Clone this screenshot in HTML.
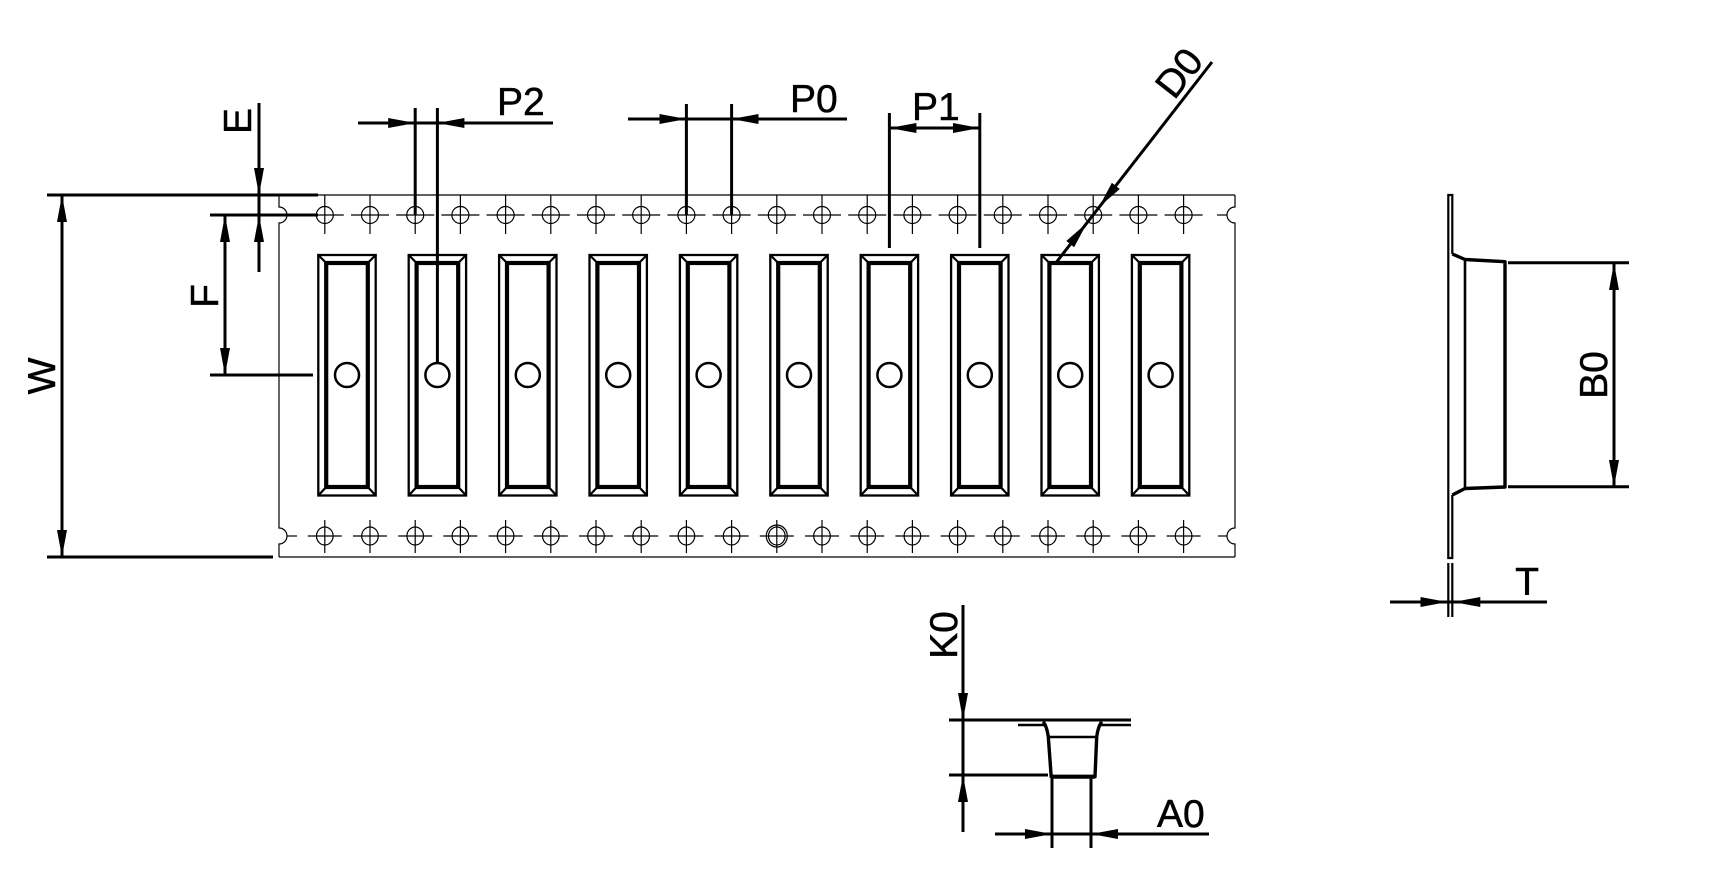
<!DOCTYPE html>
<html>
<head>
<meta charset="utf-8">
<style>
html,body{margin:0;padding:0;background:#fff;}
svg{display:block;}
text{font-family:"Liberation Sans",Arial,sans-serif;font-size:39px;fill:#000;stroke:#000;stroke-width:0.5px;}
</style>
</head>
<body>
<svg width="1710" height="873" viewBox="0 0 1710 873" xmlns="http://www.w3.org/2000/svg">
<defs>
  <marker id="ah" markerUnits="userSpaceOnUse" markerWidth="30" markerHeight="12" refX="27" refY="5" orient="auto">
    <path d="M0,0 L27,5 L0,10 Z" fill="#000"/>
  </marker>
  <g id="th" fill="none" stroke="#000" stroke-width="1.2">
    <circle cx="0" cy="0" r="8.5"/>
    <line x1="-19" y1="0" x2="19" y2="0"/>
    <line x1="0" y1="-20" x2="0" y2="19"/>
  </g>
  <g id="bh" fill="none" stroke="#000" stroke-width="1.2">
    <ellipse cx="0" cy="0" rx="8.3" ry="9"/>
    <line x1="-17" y1="0" x2="17" y2="0"/>
    <line x1="0" y1="-16" x2="0" y2="17"/>
  </g>
  <g id="pk" fill="none" stroke="#000">
    <rect x="-28.7" y="255" width="57.4" height="240.5" stroke-width="2.3"/>
    <rect x="-20.8" y="263" width="41.6" height="224" stroke-width="4.2"/>
    <line x1="-28.7" y1="255" x2="-20.8" y2="263" stroke-width="2.2"/>
    <line x1="28.7" y1="255" x2="20.8" y2="263" stroke-width="2.2"/>
    <line x1="-28.7" y1="495.5" x2="-20.8" y2="487" stroke-width="2.2"/>
    <line x1="28.7" y1="495.5" x2="20.8" y2="487" stroke-width="2.2"/>
    <circle cx="0" cy="375" r="12" stroke-width="2.5"/>
  </g>
</defs>

<!-- Tape outline -->
<g fill="none" stroke="#000" stroke-width="1.2">
  <line x1="279" y1="195" x2="1235" y2="195"/>
  <line x1="279" y1="557" x2="1235" y2="557"/>
  <path d="M279,195 V207 A8,8 0 0 1 279,223 V528 A8,8 0 0 1 279,544 V557"/>
  <path d="M1235,195 V207 A8,8 0 0 0 1235,223 V528 A8,8 0 0 0 1235,544 V557"/>
  <line x1="287" y1="536" x2="297" y2="536"/>
  <line x1="1217" y1="215" x2="1227" y2="215"/>
  <line x1="1218" y1="536" x2="1227" y2="536"/>
</g>

<!-- Top sprocket holes -->
<use href="#th" x="324.8" y="215"/>
<use href="#th" x="370" y="215"/>
<use href="#th" x="415.2" y="215"/>
<use href="#th" x="460.4" y="215"/>
<use href="#th" x="505.6" y="215"/>
<use href="#th" x="550.8" y="215"/>
<use href="#th" x="596" y="215"/>
<use href="#th" x="641.2" y="215"/>
<use href="#th" x="686.4" y="215"/>
<use href="#th" x="731.6" y="215"/>
<use href="#th" x="776.8" y="215"/>
<use href="#th" x="822" y="215"/>
<use href="#th" x="867.2" y="215"/>
<use href="#th" x="912.4" y="215"/>
<use href="#th" x="957.6" y="215"/>
<use href="#th" x="1002.8" y="215"/>
<use href="#th" x="1048" y="215"/>
<use href="#th" x="1093.2" y="215"/>
<use href="#th" x="1138.4" y="215"/>
<use href="#th" x="1183.6" y="215"/>

<!-- Bottom sprocket holes -->
<use href="#bh" x="324.8" y="536"/>
<use href="#bh" x="370" y="536"/>
<use href="#bh" x="415.2" y="536"/>
<use href="#bh" x="460.4" y="536"/>
<use href="#bh" x="505.6" y="536"/>
<use href="#bh" x="550.8" y="536"/>
<use href="#bh" x="596" y="536"/>
<use href="#bh" x="641.2" y="536"/>
<use href="#bh" x="686.4" y="536"/>
<use href="#bh" x="731.6" y="536"/>
<use href="#bh" x="776.8" y="536"/>
<use href="#bh" x="822" y="536"/>
<use href="#bh" x="867.2" y="536"/>
<use href="#bh" x="912.4" y="536"/>
<use href="#bh" x="957.6" y="536"/>
<use href="#bh" x="1002.8" y="536"/>
<use href="#bh" x="1048" y="536"/>
<use href="#bh" x="1093.2" y="536"/>
<use href="#bh" x="1138.4" y="536"/>
<use href="#bh" x="1183.6" y="536"/>
<ellipse cx="776.8" cy="536" rx="10.5" ry="11" fill="none" stroke="#000" stroke-width="1.2"/>

<!-- Pockets -->
<use href="#pk" x="347" y="0"/>
<use href="#pk" x="437.4" y="0"/>
<use href="#pk" x="527.8" y="0"/>
<use href="#pk" x="618.2" y="0"/>
<use href="#pk" x="708.6" y="0"/>
<use href="#pk" x="799" y="0"/>
<use href="#pk" x="889.4" y="0"/>
<use href="#pk" x="979.8" y="0"/>
<use href="#pk" x="1070.2" y="0"/>
<use href="#pk" x="1160.6" y="0"/>

<!-- Dimension lines -->
<g stroke="#000" stroke-width="3" fill="none">
  <!-- W -->
  <line x1="47" y1="195" x2="318" y2="195"/>
  <line x1="47" y1="557" x2="273" y2="557"/>
  <line x1="62" y1="195" x2="62" y2="557"/>
  <!-- E -->
  <line x1="259" y1="103" x2="259" y2="272"/>
  <line x1="210" y1="215" x2="318" y2="215"/>
  <!-- F -->
  <line x1="225" y1="215" x2="225" y2="375"/>
  <line x1="210" y1="375" x2="313" y2="375"/>
  <!-- P2 -->
  <line x1="415.2" y1="108" x2="415.2" y2="215"/>
  <line x1="437.4" y1="108" x2="437.4" y2="363"/>
  <line x1="358" y1="123" x2="553" y2="123"/>
  <!-- P0 -->
  <line x1="686.4" y1="104" x2="686.4" y2="215"/>
  <line x1="731.6" y1="104" x2="731.6" y2="215"/>
  <line x1="628" y1="119" x2="847" y2="119"/>
  <!-- P1 -->
  <line x1="889.4" y1="113" x2="889.4" y2="248"/>
  <line x1="979.8" y1="113" x2="979.8" y2="248"/>
  <line x1="889.4" y1="128" x2="979.8" y2="128"/>
  <!-- D0 -->
  <line x1="1212" y1="62" x2="1055" y2="264"/>
  <!-- B0 -->
  <line x1="1508" y1="262.7" x2="1629" y2="262.7"/>
  <line x1="1508" y1="486.7" x2="1629" y2="486.7"/>
  <line x1="1614" y1="263" x2="1614" y2="487"/>
  <!-- T -->
  <line x1="1390" y1="602" x2="1547" y2="602"/>
  <!-- K0 -->
  <line x1="963" y1="605" x2="963" y2="832"/>
  <line x1="949" y1="720" x2="1131" y2="720"/>
  <line x1="949" y1="775" x2="1048" y2="775"/>
  <!-- A0 -->
  <line x1="1052" y1="778" x2="1052" y2="848"/>
  <line x1="1091" y1="778" x2="1091" y2="848"/>
  <line x1="995" y1="834" x2="1209" y2="834"/>
</g>

<!-- Arrows -->
<g stroke="#000" stroke-width="1">
  <line x1="62" y1="222" x2="62" y2="195" marker-end="url(#ah)"/>
  <line x1="62" y1="530" x2="62" y2="557" marker-end="url(#ah)"/>
  <line x1="259" y1="168" x2="259" y2="195" marker-end="url(#ah)"/>
  <line x1="259" y1="242" x2="259" y2="215" marker-end="url(#ah)"/>
  <line x1="225" y1="242" x2="225" y2="215" marker-end="url(#ah)"/>
  <line x1="225" y1="348" x2="225" y2="375" marker-end="url(#ah)"/>
  <line x1="388" y1="123" x2="415.2" y2="123" marker-end="url(#ah)"/>
  <line x1="464" y1="123" x2="437.4" y2="123" marker-end="url(#ah)"/>
  <line x1="659" y1="119" x2="686.4" y2="119" marker-end="url(#ah)"/>
  <line x1="759" y1="119" x2="731.6" y2="119" marker-end="url(#ah)"/>
  <line x1="917" y1="128" x2="889.4" y2="128" marker-end="url(#ah)"/>
  <line x1="952" y1="128" x2="979.8" y2="128" marker-end="url(#ah)"/>
  <line x1="1115.8" y1="185.9" x2="1099" y2="207" marker-end="url(#ah)"/>
  <line x1="1070.2" y1="244.1" x2="1087" y2="223" marker-end="url(#ah)"/>
  <line x1="1614" y1="290" x2="1614" y2="263" marker-end="url(#ah)"/>
  <line x1="1614" y1="460" x2="1614" y2="487" marker-end="url(#ah)"/>
  <line x1="1420" y1="602" x2="1447.3" y2="602" marker-end="url(#ah)"/>
  <line x1="1480" y1="602" x2="1453.3" y2="602" marker-end="url(#ah)"/>
  <line x1="963" y1="693" x2="963" y2="720" marker-end="url(#ah)"/>
  <line x1="963" y1="802" x2="963" y2="775" marker-end="url(#ah)"/>
  <line x1="1025" y1="834" x2="1052" y2="834" marker-end="url(#ah)"/>
  <line x1="1118" y1="834" x2="1091" y2="834" marker-end="url(#ah)"/>
</g>

<!-- Side view (right) -->
<g fill="none" stroke="#000">
  <path d="M1452.3,254 V195 H1448.3 V558 H1452.3 V495" stroke-width="2.2"/>
  <line x1="1448.3" y1="563" x2="1448.3" y2="617" stroke-width="2.2"/>
  <line x1="1452.3" y1="563" x2="1452.3" y2="617" stroke-width="2.2"/>
  <path d="M1452.3,254 L1465,259.5 L1505,261.7 L1505,487 L1465,488.5 L1452.3,495" stroke-width="3.4" stroke-linejoin="round"/>
  <line x1="1465" y1="259.5" x2="1465" y2="488.5" stroke-width="2.6"/>
</g>

<!-- Section view (bottom) -->
<g fill="none" stroke="#000">
  <line x1="1018" y1="725" x2="1045" y2="725" stroke-width="2.6"/>
  <line x1="1100" y1="725" x2="1131" y2="725" stroke-width="2.6"/>
  <path d="M1043.3,721.7 Q1047,727 1048.3,736.7 L1051.2,776.7 L1095,776.7 L1096.7,736.7 Q1098,727 1101.7,721.7" stroke-width="3.4" stroke-linejoin="round"/>
  <line x1="1048.3" y1="737" x2="1096.7" y2="737" stroke-width="2.6"/>
  <line x1="1051.2" y1="776.7" x2="1095" y2="776.7" stroke-width="4.2"/>
</g>

<!-- Labels -->
<text x="497" y="115">P2</text>
<text x="790" y="112">P0</text>
<text x="912" y="120">P1</text>
<text x="1527" y="595" text-anchor="middle">T</text>
<text x="1157" y="827">A0</text>
<text transform="translate(251,121) rotate(-90)" text-anchor="middle">E</text>
<text transform="translate(218,296) rotate(-90)" text-anchor="middle">F</text>
<text transform="translate(55,376) rotate(-90)" text-anchor="middle">W</text>
<text transform="translate(957,635) rotate(-90)" text-anchor="middle">K0</text>
<text transform="translate(1607,375) rotate(-90)" text-anchor="middle">B0</text>
<text transform="translate(1093,215) rotate(-52.1)" x="165" y="-6" text-anchor="middle">D0</text>
</svg>
</body>
</html>
